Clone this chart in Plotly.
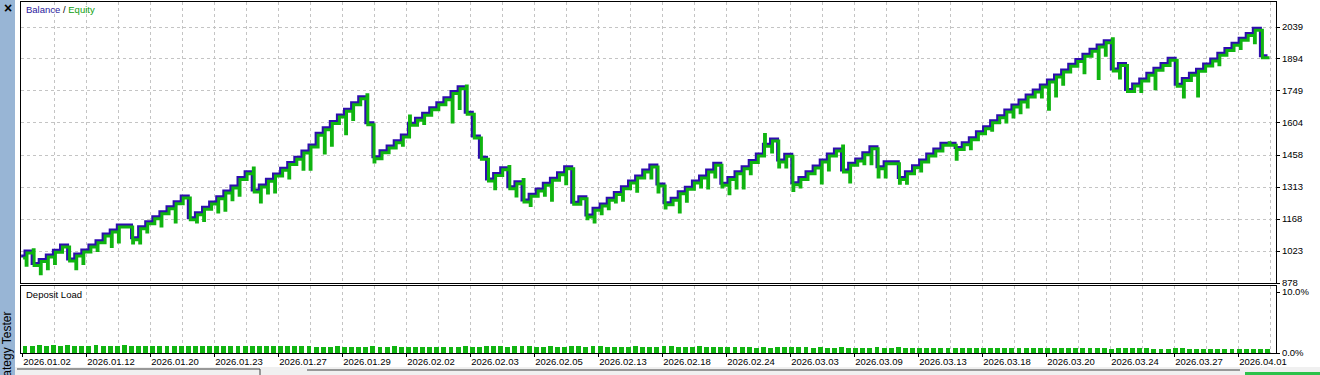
import plotly.graph_objects as go

# ---------------- data ----------------
initial_deposit = 1000

# balance after each closed deal (deal index 0..175)
balance = [1023, 967, 985, 1005, 1026, 1050, 987, 1009, 1028, 1050,
           1070, 1100, 1118, 1141, 1141, 1083, 1133, 1156, 1179, 1201,
           1224, 1247, 1273, 1174, 1197, 1221, 1245, 1269, 1295, 1318,
           1357, 1383, 1300, 1322, 1348, 1372, 1398, 1425, 1448, 1477,
           1504, 1557, 1582, 1610, 1640, 1666, 1696, 1723, 1605, 1451,
           1478, 1499, 1523, 1549, 1602, 1625, 1648, 1673, 1696, 1718,
           1746, 1768, 1652, 1545, 1448, 1350, 1375, 1401, 1315, 1337,
           1254, 1280, 1304, 1330, 1353, 1378, 1405, 1244, 1269, 1186,
           1217, 1236, 1262, 1288, 1315, 1341, 1363, 1390, 1413, 1327,
           1242, 1262, 1292, 1312, 1341, 1363, 1390, 1421, 1330, 1356,
           1383, 1405, 1433, 1463, 1507, 1531, 1436, 1462, 1333, 1356,
           1383, 1409, 1436, 1463, 1486, 1390, 1421, 1440, 1469, 1496,
           1405, 1428, 1428, 1357, 1383, 1410, 1436, 1463, 1486, 1512,
           1512, 1492, 1514, 1537, 1564, 1587, 1614, 1637, 1663, 1685,
           1708, 1731, 1753, 1776, 1799, 1821, 1844, 1870, 1892, 1915,
           1938, 1957, 1977, 1848, 1874, 1756, 1780, 1803, 1829, 1852,
           1874, 1897, 1779, 1806, 1829, 1847, 1871, 1894, 1920, 1942,
           1965, 1988, 2010, 2033, 1909, 1909]

# equity extremes reached while a position was open, just before the given deal closed
equity_extremes = {
    0: 968, 1: 1038, 2: 929, 3: 952, 4: 975, 7: 952, 8: 975, 10: 1035, 12: 1053,
    13: 1073, 15: 1068, 16: 1068, 17: 1118, 19: 1146, 21: 1164, 24: 1164, 25: 1171,
    27: 1209, 28: 1217, 29: 1265, 30: 1285, 32: 1409, 33: 1254, 34: 1295, 35: 1300,
    37: 1363, 39: 1403, 40: 1403, 42: 1477, 43: 1512, 45: 1564, 46: 1629, 48: 1741,
    49: 1436, 53: 1512, 54: 1644, 56: 1610, 60: 1617, 61: 1678, 62: 1780, 66: 1315,
    68: 1415, 69: 1282, 70: 1357, 71: 1239, 73: 1285, 74: 1262, 76: 1337, 79: 1179,
    80: 1164, 81: 1201, 82: 1224, 83: 1254, 84: 1262, 86: 1303, 88: 1363, 89: 1300,
    90: 1227, 92: 1209, 93: 1258, 95: 1322, 96: 1318, 97: 1368, 98: 1322, 99: 1292,
    100: 1318, 101: 1318, 102: 1383, 104: 1561, 105: 1481, 106: 1413, 107: 1413,
    108: 1307, 109: 1322, 112: 1341, 113: 1400, 115: 1508, 116: 1345, 118: 1428,
    119: 1428, 120: 1368, 121: 1368, 123: 1340, 124: 1340, 126: 1395, 130: 1523,
    131: 1448, 133: 1496, 136: 1580, 138: 1617, 139: 1640, 140: 1659, 141: 1685,
    143: 1731, 144: 1675, 145: 1735, 146: 1788, 149: 1841, 151: 1814, 152: 1920,
    153: 1995, 154: 1817, 157: 1756, 159: 1768, 163: 1731, 165: 1735, 168: 1877,
    171: 1950, 173: 1977,
}

# deposit load (%) per deal
deposit_load = [1.2, 1.2, 1.3, 1.2, 1.3, 1.2, 1.3, 1.2, 1.2, 1.2,
                1.3, 1.2, 1.2, 1.2, 1.3, 1.2, 1.2, 1.2, 1.2, 1.2,
                1.2, 1.1, 1.1, 1.2, 1.2, 1.1, 1.1, 1.1, 1.2, 1.1,
                1.1, 1.1, 1.1, 1.2, 1.1, 1.1, 1.1, 1.1, 1.2, 1.1,
                1.1, 1.0, 1.0, 1.0, 1.1, 1.0, 1.0, 1.0, 1.0, 1.1,
                1.0, 1.0, 1.1, 1.0, 1.0, 1.0, 1.0, 1.0, 1.0, 1.0,
                1.0, 1.0, 1.1, 1.0, 1.0, 1.1, 1.1, 1.1, 1.0, 1.1,
                1.1, 1.1, 1.0, 1.0, 1.1, 1.0, 1.0, 1.1, 1.1, 1.0,
                1.1, 1.1, 1.0, 1.0, 1.0, 1.0, 1.1, 1.0, 1.0, 1.0,
                1.1, 1.1, 1.0, 1.0, 1.0, 1.1, 1.0, 1.0, 1.0, 1.0,
                1.0, 1.0, 1.0, 0.9, 1.0, 0.9, 1.0, 1.0, 1.0, 1.0,
                1.0, 0.9, 1.0, 0.9, 0.9, 1.0, 0.9, 0.9, 0.9, 0.9,
                1.0, 0.9, 0.9, 1.0, 0.9, 0.9, 0.9, 0.9, 0.9, 0.9,
                0.9, 0.9, 0.9, 0.9, 0.9, 0.9, 0.8, 0.9, 0.8, 0.8,
                0.8, 0.8, 0.8, 0.8, 0.8, 0.8, 0.8, 0.8, 0.8, 0.8,
                0.8, 0.8, 0.8, 0.7, 0.8, 0.8, 0.8, 0.8, 0.8, 0.7,
                0.7, 0.7, 0.8, 0.8, 0.7, 0.7, 0.7, 0.7, 0.7, 0.7,
                0.7, 0.7, 0.7, 0.7, 0.7, 0.7]

date_labels = ["2026.01.02", "2026.01.12", "2026.01.20", "2026.01.23", "2026.01.27",
               "2026.01.29", "2026.02.02", "2026.02.03", "2026.02.05", "2026.02.13",
               "2026.02.18", "2026.02.24", "2026.03.03", "2026.03.09", "2026.03.13",
               "2026.03.18", "2026.03.20", "2026.03.24", "2026.03.27", "2026.04.01"]

balance_ticks = [878, 1023, 1168, 1313, 1458, 1604, 1749, 1894, 2039]
load_ticks = [0, 10]
load_tick_text = ["0.0%", "10.0%"]

# ---------------- styling / geometry ----------------
W, H = 1320, 375
L, R, T, B = 21, 44, 2, 22
PLOT_W = W - L - R
PLOT_H = H - T - B
PX_PER_DEAL = 7.1
FIRST_DEAL_PX = 25
GRID_PX = 32

BAL_COLOR = "#2E0DAE"
EQ_COLOR = "#10B410"
GRID_COLOR = "#C4C4C4"
FONT = "Liberation Sans"
FS = 9.5


def px_to_deal(px):
    return (px - FIRST_DEAL_PX) / PX_PER_DEAL


def paper_x(px):
    return (px - L) / PLOT_W


def paper_y(py):
    return (H - B - py) / PLOT_H


x_range = [px_to_deal(L), px_to_deal(W - R)]
grid_vals = [px_to_deal(22 + GRID_PX * k) for k in range(40)]
label_vals = grid_vals[0::2]
grid_text = []
for k in range(40):
    grid_text.append(date_labels[k // 2] if k % 2 == 0 else "")

top_range = [878, 878 + (283 - T) / 32 * 145.125]
eq_dx = 2 / PX_PER_DEAL
eq_dy = 2 / 32 * 145.125

deals = list(range(len(balance)))
start_x = x_range[0] + 0.02

bal_x = [start_x] + deals
bal_y = [initial_deposit] + balance

eq_x = [start_x]
eq_y = [initial_deposit]
for i, b in zip(deals, balance):
    if i in equity_extremes:
        eq_x.append(i - 0.12)
        eq_y.append(equity_extremes[i])
    eq_x.append(i)
    eq_y.append(b)

fig = go.Figure()
fig.add_trace(go.Scatter(x=eq_x, y=eq_y, mode="lines", line=dict(color=EQ_COLOR, width=3, shape="hv"),
                         xaxis="x3", yaxis="y3", hoverinfo="skip", showlegend=False))
fig.add_trace(go.Scatter(x=bal_x, y=bal_y, mode="lines", line=dict(color=BAL_COLOR, width=3, shape="hv"),
                         xaxis="x", yaxis="y", hoverinfo="skip", showlegend=False))
fig.add_trace(go.Bar(x=deals, y=deposit_load, width=0.7, marker=dict(color=EQ_COLOR, line=dict(width=0)),
                     xaxis="x2", yaxis="y2", hoverinfo="skip", showlegend=False))

top_dom = [paper_y(283), 1]
bot_dom = [0, paper_y(286)]

axis_common = dict(showline=True, mirror=True, linecolor="black", linewidth=1, zeroline=False)
fig.update_layout(
    width=W, height=H, margin=dict(l=L, r=R, t=T, b=B, pad=0),
    paper_bgcolor="white", plot_bgcolor="white",
    font=dict(family=FONT, size=FS, color="black"),
    bargap=0,
    xaxis=dict(domain=[0, 1], anchor="y", range=x_range, tickvals=grid_vals, showticklabels=False,
               ticks="", showgrid=True, gridcolor=GRID_COLOR, griddash="3px,3px", gridwidth=1, **axis_common),
    yaxis=dict(domain=top_dom, anchor="x", range=top_range, side="right", tickvals=balance_ticks,
               ticktext=[str(v) for v in balance_ticks], ticks="outside", ticklen=3, tickcolor="black",
               showgrid=True, gridcolor=GRID_COLOR, griddash="3px,3px", gridwidth=1, **axis_common),
    xaxis2=dict(domain=[0, 1], anchor="y2", range=x_range, tickvals=grid_vals, ticktext=grid_text,
                ticks="", showgrid=True, gridcolor=GRID_COLOR, griddash="3px,3px", gridwidth=1,
                ticklabelshift=25, tickangle=0,
                minor=dict(tickvals=label_vals, ticks="outside", ticklen=3, tickcolor="black", showgrid=False),
                **axis_common),
    yaxis2=dict(domain=bot_dom, anchor="x2", range=[0, 10 * 67 / 61], side="right", tickvals=load_ticks,
                ticktext=load_tick_text, ticks="outside", ticklen=3, tickcolor="black", showgrid=False,
                **axis_common),
    xaxis3=dict(overlaying="x", anchor="y", range=[x_range[0] - eq_dx, x_range[1] - eq_dx], visible=False),
    yaxis3=dict(overlaying="y", anchor="x", range=[top_range[0] + eq_dy, top_range[1] + eq_dy], visible=False),
)

# window chrome: left side bar
fig.add_shape(type="rect", xref="paper", yref="paper", x0=paper_x(0), x1=paper_x(15), y0=paper_y(375), y1=paper_y(0),
              fillcolor="#98B5D5", line=dict(width=0), layer="below")
# bottom strip
fig.add_shape(type="rect", xref="paper", yref="paper", x0=paper_x(15), x1=paper_x(1320), y0=paper_y(375),
              y1=paper_y(367), fillcolor="#F0F0F0", line=dict(width=0), layer="below")
fig.add_shape(type="line", xref="paper", yref="paper", x0=paper_x(17), x1=paper_x(260), y0=paper_y(369), y1=paper_y(369),
              line=dict(color="#404040", width=1))
fig.add_shape(type="line", xref="paper", yref="paper", x0=paper_x(260), x1=paper_x(260), y0=paper_y(369), y1=paper_y(375),
              line=dict(color="#404040", width=1))
fig.add_shape(type="line", xref="paper", yref="paper", x0=paper_x(307), x1=paper_x(1240), y0=paper_y(370), y1=paper_y(370),
              line=dict(color="#404040", width=1))
fig.add_shape(type="rect", xref="paper", yref="paper", x0=paper_x(1245), x1=paper_x(1320), y0=paper_y(375), y1=paper_y(372),
              fillcolor="#2CC24A", line=dict(width=0))

fig.add_annotation(xref="paper", yref="paper", x=paper_x(7), y=paper_y(352), text="Strategy Tester",
                   xanchor="center", yanchor="middle",
                   textangle=-90, showarrow=False, font=dict(family=FONT, size=12, color="black"))
fig.add_annotation(xref="paper", yref="paper", x=paper_x(7.5), y=paper_y(8), text="<b>×</b>",
                   xanchor="center", yanchor="middle",
                   showarrow=False, font=dict(family=FONT, size=14, color="black"))
fig.add_annotation(xref="paper", yref="paper", x=paper_x(24), y=paper_y(10), xanchor="left", yanchor="middle",
                   text=f"<span style='color:#2B1A9E'>Balance</span> / <span style='color:#10A010'>Equity</span>",
                   showarrow=False, font=dict(family=FONT, size=FS, color="black"))
fig.add_annotation(xref="paper", yref="paper", x=paper_x(24), y=paper_y(294), xanchor="left", yanchor="middle",
                   text="Deposit Load", showarrow=False, font=dict(family=FONT, size=FS, color="black"))

fig.write_html("out.html")
